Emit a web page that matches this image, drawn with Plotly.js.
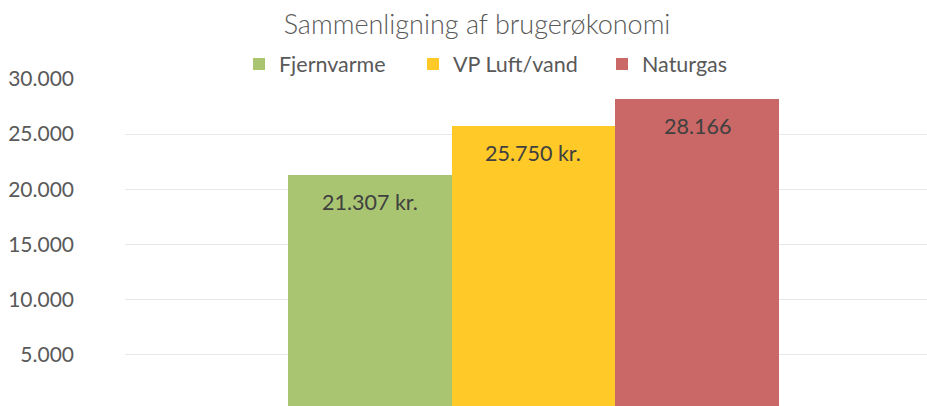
<!DOCTYPE html>
<html>
<head>
<meta charset="utf-8">
<script src="https://cdn.plot.ly/plotly-3.0.1.min.js"></script>
<style>html,body{margin:0;padding:0;background:#fff;}#chart{width:927px;height:406px;}</style>
</head>
<body>
<div id="chart"></div>
<script>
const seriesNames = ["Fjernvarme", "VP Luft/vand", "Naturgas"];
const seriesValues = [21307, 25750, 28166];
const barLabels = ["21.307 kr.", "25.750 kr.", "28.166"];
const seriesColors = ["#A9C572", "#FFC928", "#C96866"];
const tickValues = [5000, 10000, 15000, 20000, 25000, 30000];
const chartTitle = "Sammenligning af brugerøkonomi";

const FONT = "Lato, 'Open Sans', sans-serif";
const legendIds = ["legend", "legend2", "legend3"];
const legendLeft = [239, 413, 602];

const traces = seriesNames.map((name, i) => ({
  type: "bar",
  name: name,
  x: [name],
  y: [seriesValues[i]],
  legend: legendIds[i],
  marker: {color: seriesColors[i], line: {width: 0}},
  hoverinfo: "skip"
}));

const annotations = seriesNames.map((name, i) => ({
  x: name, y: seriesValues[i], xref: "x", yref: "y",
  text: barLabels[i], showarrow: false,
  yanchor: "middle", yshift: -27,
  font: {family: FONT, size: 21.5, color: "#404040"}
}));

const layout = {
  width: 927, height: 406,
  margin: {l: 125, r: 0, t: 79, b: 0, pad: 0, autoexpand: false},
  paper_bgcolor: "#ffffff", plot_bgcolor: "#ffffff",
  separators: ",.",
  barmode: "overlay",
  bargap: 0,
  showlegend: true,
  title: {
    text: chartTitle,
    font: {family: FONT, size: 27, weight: 300, color: "#595959"},
    x: 477/927, xref: "container", xanchor: "center",
    y: 1 - 25/406, yref: "container", yanchor: "middle"
  },
  xaxis: {
    type: "category",
    range: [-1.495, 3.404],
    showticklabels: false, showgrid: false, zeroline: false, showline: false, ticks: ""
  },
  yaxis: {
    range: [327, 30000],
    tickvals: tickValues,
    tickformat: ",d",
    showgrid: true, gridcolor: "#E8E8E8", gridwidth: 1,
    zeroline: false, showline: false, ticks: "",
    ticklabelstandoff: 50,
    tickfont: {family: FONT, size: 21, color: "#595959"}
  },
  annotations: annotations
};

legendIds.forEach((id, i) => {
  layout[id] = {
    orientation: "h",
    x: legendLeft[i] / 927, xref: "container", xanchor: "left",
    y: 1 - 64/406, yref: "container", yanchor: "middle",
    font: {family: FONT, size: 21.5, color: "#595959"},
    bgcolor: "rgba(0,0,0,0)",
    itemclick: false
  };
});

Plotly.newPlot("chart", traces, layout, {staticPlot: true, displayModeBar: false});
</script>
</body>
</html>
